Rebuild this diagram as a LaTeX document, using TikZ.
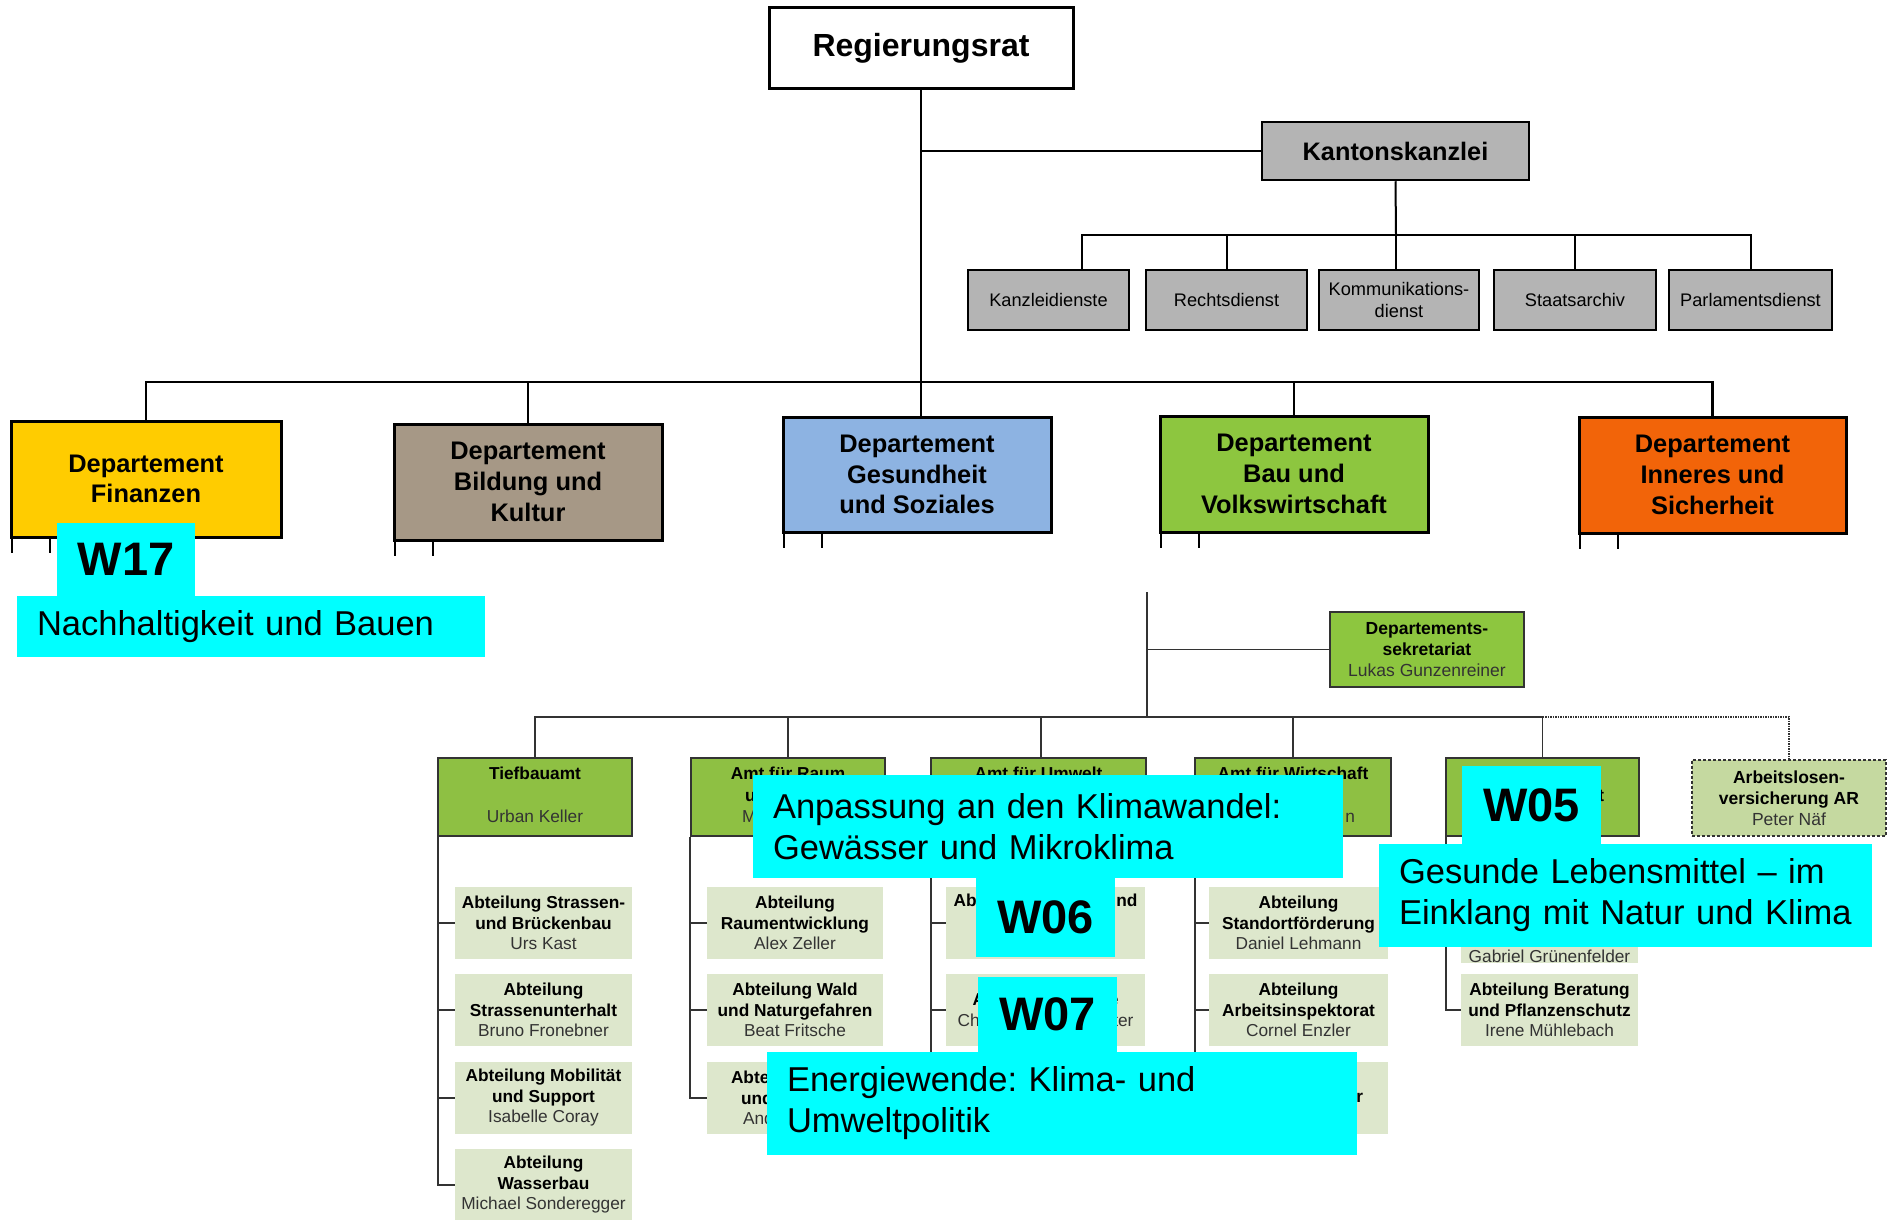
\documentclass[tikz,border=0pt]{standalone}
\usepackage{fontspec}
\setmainfont{Liberation Sans}
\frenchspacing

\definecolor{finyellow}{HTML}{FFCC00}
\definecolor{bildbrown}{HTML}{A69886}
\definecolor{gesblue}{HTML}{8DB3E2}
\definecolor{baugreen}{HTML}{8DC63F}
\definecolor{innorange}{HTML}{F26409}
\definecolor{boxgray}{HTML}{B4B4B4}
\definecolor{amtgreen}{HTML}{8EC043}
\definecolor{abtgreen}{HTML}{DDE7CC}
\definecolor{alvgreen}{HTML}{C5D9A0}
\definecolor{tagcyan}{HTML}{00FFFF}
\definecolor{linegray}{HTML}{333333}
\definecolor{namegray}{HTML}{333333}

\newcommand{\persname}[1]{{\mdseries\color{namegray}#1}}
\newcommand{\amtlines}[3]{\strut#1\\\strut#2\\\strut#3}

\tikzset{
  orgbox/.style={draw, rectangle, line width=3pt, inner sep=0pt, align=center,
    font=\bfseries\fontsize{25.4}{30.7}\selectfont},
  kkbox/.style={draw, rectangle, fill=boxgray, line width=2.5pt, inner sep=0pt, align=center,
    font=\fontsize{18.2}{22}\selectfont},
  amtbox/.style={draw=linegray, rectangle, line width=2pt, inner sep=0pt, align=center,
    font=\bfseries\fontsize{17.3}{21.5}\selectfont},
  abtbox/.style={rectangle, fill=abtgreen, inner sep=0pt, align=center,
    minimum width=177pt, minimum height=72pt,
    font=\bfseries\fontsize{17.3}{20.5}\selectfont},
  tagbox/.style={rectangle, fill=tagcyan, inner sep=0pt,
    font=\bfseries\fontsize{47}{50}\selectfont},
  notebox/.style={rectangle, fill=tagcyan, inner xsep=20pt, inner ysep=0pt, align=left,
    font=\fontsize{34.5}{41}\selectfont},
  mainline/.style={line width=2.5pt},
  kline/.style={line width=2pt},
  subline/.style={line width=1.5pt, draw=linegray}
}

\begin{document}
\begin{tikzpicture}[x=1pt, y=-1pt]
    \useasboundingbox (0,0) rectangle (1888,1220);
    \fill[white] (0,0) rectangle (1888,1220);

    % Regierungsrat and Kantonskanzlei
    \node[orgbox, fill=white, minimum width=304pt, minimum height=81pt,
      font=\bfseries\fontsize{32}{36}\selectfont] (rr) at (921,48.5) {Regierungsrat};
    \node[kkbox, minimum width=267pt, minimum height=58pt,
      font=\bfseries\fontsize{25.3}{30}\selectfont] (kk) at (1395.5,151) {Kantonskanzlei};

    % Kanzlei services
    \node[kkbox, minimum width=161pt, minimum height=60pt] (kanzlei) at (1048.5,300) {Kanzleidienste};
    \node[kkbox, minimum width=161pt, minimum height=60pt] (recht) at (1226.5,300) {Rechtsdienst};
    \node[kkbox, minimum width=160pt, minimum height=60pt] (komm) at (1399,300) {Kommunikations-\\dienst};
    \node[kkbox, minimum width=162pt, minimum height=60pt] (archiv) at (1575,300) {Staatsarchiv};
    \node[kkbox, minimum width=163pt, minimum height=60pt] (parl) at (1750.5,300) {Parlamentsdienst};

    % Departements
    \node[orgbox, fill=finyellow, minimum width=270pt, minimum height=116pt] (fin) at (146,479) {Departement\\Finanzen};
    \node[orgbox, fill=bildbrown, minimum width=268pt, minimum height=116pt] (bild) at (528,482) {Departement\\Bildung und\\Kultur};
    \node[orgbox, fill=gesblue, minimum width=268pt, minimum height=115pt] (ges) at (917,474.5) {Departement\\Gesundheit\\und Soziales};
    \node[orgbox, fill=baugreen, minimum width=268pt, minimum height=116pt] (bau) at (1294,474) {Departement\\Bau und\\Volkswirtschaft};
    \node[orgbox, fill=innorange, minimum width=267pt, minimum height=116pt] (inn) at (1712.5,475) {Departement\\Inneres und\\Sicherheit};

    % Lines top
    \coordinate (dbus) at (921,382);
    \coordinate (kbus) at (1396,235);
    \draw[mainline] (rr.south) -- (dbus);
    \draw[mainline] (rr.south |- kk.west) -- (kk.west);
    \draw[mainline] (fin.north) |- (dbus) -| (inn.north);
    \draw[mainline] (bild.north) -- (bild.north |- dbus);
    \draw[mainline] (dbus) -- (dbus |- ges.north);
    \draw[mainline] (bau.north) -- (bau.north |- dbus);
    \draw[kline] (kk.south) -- (kbus);
    \draw[kline] ([xshift=33.5pt]kanzlei.north) |- (kbus) -| (parl.north);
    \draw[kline] (recht.north) -- (recht.north |- kbus);
    \draw[kline] (kbus) -- (kbus |- komm.north);
    \draw[kline] (archiv.north) -- (archiv.north |- kbus);
    \foreach \d in {fin,bild,ges,bau,inn} {
      \draw[kline] ([xshift=2pt]\d.south west) -- ++(0,14);
      \draw[kline] ([xshift=40pt]\d.south west) -- ++(0,14);
    }

    % Bau und Volkswirtschaft
    \node[amtbox, fill=baugreen, minimum width=194pt, minimum height=75pt,
      font=\bfseries\fontsize{17.5}{21}\selectfont] (sek) at (1427,649.5) {Departements-\\sekretariat\\\persname{Lukas Gunzenreiner}};
    \node[amtbox, fill=amtgreen, minimum width=194pt, minimum height=78pt] (tief) at (535,797) {\amtlines{Tiefbauamt}{}{\persname{Urban Keller}}};
    \node[amtbox, fill=amtgreen, minimum width=194pt, minimum height=78pt] (raum) at (788,797) {\amtlines{Amt für Raum}{\makebox[86pt][l]{u}}{\persname{\makebox[92pt][l]{M}}}};
    \node[amtbox, fill=amtgreen, minimum width=215pt, minimum height=78pt] (umw) at (1038.5,797) {\amtlines{Amt für Umwelt}{}{}};
    \node[amtbox, fill=amtgreen, minimum width=196pt, minimum height=78pt] (wirt) at (1293,797) {\amtlines{Amt für Wirtschaft}{}{\persname{\makebox[124pt][r]{n}}}};
    \node[amtbox, fill=amtgreen, minimum width=193pt, minimum height=78pt] (landw) at (1542.5,797) {\amtlines{}{\makebox[123pt][r]{t}}{}};
    \node[amtbox, fill=alvgreen, densely dashed, line width=1.5pt, minimum width=194pt, minimum height=76pt,
      font=\bfseries\fontsize{17.5}{21}\selectfont] (alv) at (1789,798) {Arbeitslosen-\\versicherung AR\\\persname{Peter Näf}};

    % Abteilungen
    \node[abtbox] (t1) at (543.5,923) {Abteilung Strassen-\\und Brückenbau\\\persname{Urs Kast}};
    \node[abtbox] (t2) at (543.5,1010) {Abteilung\\Strassenunterhalt\\\persname{Bruno Fronebner}};
    \node[abtbox] (t3) at (543.5,1098) {Abteilung Mobilität\\und Support\\\persname{Isabelle Coray}};
    \node[abtbox] (t4) at (543.5,1185) {Abteilung\\Wasserbau\\\persname{Michael Sonderegger}};
    \node[abtbox, minimum width=176pt] (r1) at (795,923) {Abteilung\\Raumentwicklung\\\persname{Alex Zeller}};
    \node[abtbox, minimum width=176pt] (r2) at (795,1010) {Abteilung Wald\\und Naturgefahren\\\persname{Beat Fritsche}};
    \node[abtbox, minimum width=176pt] (r3) at (795,1098) {\makebox[128pt][l]{Abteilung}\\\makebox[108pt][l]{und}\\\persname{\makebox[104pt][l]{And}}};
    \node[abtbox, minimum width=199pt] (u1) at (1045.5,923) {\amtlines{\makebox[184pt]{Ab\hfill nd}}{}{}};
    \node[abtbox, minimum width=199pt] (u2) at (1045.5,1010) {\makebox[146pt]{A\hfill e}\\\persname{\makebox[176pt]{Ch\hfill ter}}};
    \node[abtbox, minimum width=179pt] (w1) at (1298.5,923) {Abteilung\\Standortförderung\\\persname{Daniel Lehmann}};
    \node[abtbox, minimum width=179pt] (w2) at (1298.5,1010) {Abteilung\\Arbeitsinspektorat\\\persname{Cornel Enzler}};
    \node[abtbox, minimum width=179pt] (w3) at (1298.5,1098) {\amtlines{}{\makebox[129pt][r]{r}}{}};
    \node[abtbox, minimum height=75pt] (l1) at (1549.5,924.5) {\strut\\\strut\\\strut\\\persname{Gabriel Grünenfelder}};
    \node[abtbox] (l2) at (1549.5,1010) {Abteilung Beratung\\und Pflanzenschutz\\\persname{Irene Mühlebach}};

    % Lines Bau
    \coordinate (bautop) at (1147,592);
    \coordinate (amtbus) at (1147,717);
    \draw[subline] (bautop) -- (amtbus);
    \draw[subline] (bautop |- sek.west) -- (sek.west);
    \draw[subline] (tief.north) |- (amtbus) -| (landw.north);
    \draw[subline] (raum.north) -- (raum.north |- amtbus);
    \draw[subline] (umw.north) ++(2.5,0) -- (amtbus -| 1041,0);
    \draw[subline] (wirt.north) -- (wirt.north |- amtbus);
    \draw[subline, densely dotted] (landw.north |- amtbus) -| (alv.north);
    \draw[subline] ([xshift=1pt]tief.south west) |- (t4.west);
    \draw[subline] (raum.south west) |- (r3.west);
    \draw[subline] ([xshift=1pt]umw.south west) -- ++(0,230);
    \draw[subline] ([xshift=1pt]wirt.south west) |- (w3.west);
    \draw[subline] ([xshift=1pt]landw.south west) |- (l2.west);
    \foreach \b in {t1,t2,t3,r1,r2} \draw[subline] (\b.west) -- ++(-16,0);
    \foreach \b in {u1,u2,l1} \draw[subline] (\b.west) -- ++(-14,0);
    \foreach \b in {w1,w2} \draw[subline] (\b.west) -- ++(-13,0);

    % Labels
    \node[tagbox, minimum width=138pt, minimum height=73pt] (w17) at (126,559.5) {W17};
    \node[notebox, text width=428pt, minimum height=61pt] (w17txt) at (251,626.5) {Nachhaltigkeit und Bauen};
    \node[notebox, text width=550pt, minimum height=103pt] (w06txt) at (1048,826.5) {Anpassung an den Klimawandel:\\Gewässer und Mikroklima};
    \node[tagbox, minimum width=139pt, minimum height=79pt] (w06) at (1045.5,917.5) {W06};
    \node[tagbox, minimum width=139pt, minimum height=75pt] (w07) at (1047.5,1014.5) {W07};
    \node[notebox, text width=550pt, minimum height=103pt] (w07txt) at (1062,1103.5) {Energiewende: Klima- und\\Umweltpolitik};
    \node[tagbox, minimum width=139pt, minimum height=78pt] (w05) at (1531.5,805) {W05};
    \node[notebox, text width=453pt, minimum height=103pt] (w05txt) at (1625.5,895.5) {Gesunde Lebensmittel – im\\Einklang mit Natur und Klima};
\end{tikzpicture}
\end{document}
